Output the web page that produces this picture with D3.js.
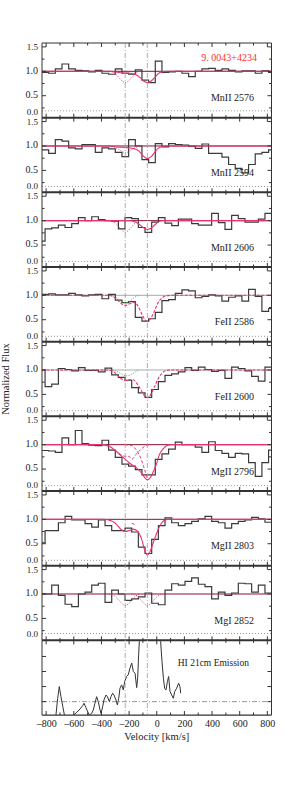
<!DOCTYPE html>
<html>
<head>
<meta charset="utf-8">
<script src="https://cdn.jsdelivr.net/npm/d3@7"></script>
<style>
  body { margin: 0; background: #fff; }
  svg text { font-family: "Liberation Serif", "DejaVu Serif", serif; fill: #222; }
</style>
</head>
<body>
<div id="chart"></div>
<script>
// ── Data ────────────────────────────────────────────────────────────────
const velocityTicks = [-800, -600, -400, -200, 0, 200, 400, 600, 800];
const componentVel  = [-228, -68];
const lineNames = ["MnII 2576", "MnII 2594", "MnII 2606", "FeII 2586", "FeII 2600",
                   "MgII 2796", "MgII 2803", "MgI 2852"];
const binWidth  = 48.2;
const binStarts = [-830, -830, -856, -830, -856, -830, -856, -856];
const errLevel  = [0.19, 0.17, 0.165, 0.16, 0.165, 0.16, 0.16, 0.19];

const fluxMnII2576 = [0.98,0.96,1.05,1.15,1.05,1.02,1.01,0.99,1.02,0.96,0.94,1.05,0.96,0.94,1.03,0.82,0.77,1.21,
                      0.98,0.99,1.00,0.96,0.89,1.00,1.05,1.06,1.02,1.05,1.02,0.99,1.01,1.01,0.96,1.01,0.98];
const fluxMnII2594 = [0.92,0.85,1.13,1.10,0.96,0.94,1.03,1.03,0.87,0.96,0.94,0.87,0.78,1.13,1.00,0.72,0.66,1.05,
                      0.98,1.05,1.03,1.02,0.99,0.95,1.04,0.85,0.85,0.77,0.62,0.54,0.45,0.62,0.84,0.87,0.92];
const fluxMnII2606 = [0.58,0.83,0.85,0.91,0.86,0.94,1.06,1.00,1.08,1.02,1.00,0.99,0.83,1.06,1.04,0.86,0.76,0.97,
                      1.06,0.95,0.90,1.03,1.03,0.94,0.91,0.91,1.15,0.96,0.82,1.11,1.04,0.97,0.97,1.03,1.15];
const fluxFeII2586 = [1.02,1.03,1.01,1.01,1.04,1.01,0.99,1.01,1.02,0.93,1.02,0.90,0.85,0.87,0.55,0.47,0.52,0.65,
                      0.89,0.91,1.04,1.11,1.09,0.95,0.98,1.01,0.99,0.88,0.96,0.99,0.88,1.12,0.98,0.67,0.73];
const fluxFeII2600 = [1.00,0.66,0.71,1.03,1.01,0.98,1.05,0.99,0.99,0.96,1.04,0.90,0.85,0.79,0.64,0.53,0.44,0.60,
                      0.76,0.89,0.92,0.96,1.05,0.99,1.06,1.01,0.97,0.99,0.83,1.06,1.03,0.98,0.87,0.77,1.06];
const fluxMgII2796 = [0.88,0.87,0.84,1.14,1.00,1.29,1.02,0.99,0.98,1.09,0.89,0.74,0.60,0.56,0.49,0.38,0.38,0.70,
                      0.81,0.91,1.05,1.00,1.00,0.95,0.84,1.06,0.88,0.82,0.74,0.82,0.81,0.63,0.35,0.63,0.89];
const fluxMgII2803 = [0.52,0.77,0.77,0.93,1.06,0.99,0.99,0.91,0.84,0.99,0.87,0.77,0.77,0.82,0.74,0.43,0.30,0.59,
                      0.87,1.03,0.93,0.87,0.91,0.96,1.01,1.06,0.96,0.93,0.82,0.91,0.96,0.99,1.04,1.01,0.94];
const fluxMgI2852  = [1.00,1.00,1.18,0.97,0.79,0.74,1.00,1.04,1.18,1.22,0.83,1.08,1.00,0.87,0.90,0.94,1.02,0.81,
                      0.78,1.08,1.21,1.18,1.26,1.33,1.20,1.15,0.90,1.04,0.97,1.02,1.22,1.21,1.04,1.18,1.02];

// model profiles [velocity, flux]
const totalMnII2576 = [[-830,1],[-340,1],[-300,0.985],[-260,0.97],[-228,0.965],[-190,0.96],[-150,0.93],[-120,0.87],
                       [-95,0.80],[-68,0.77],[-40,0.80],[-15,0.87],[10,0.95],[40,0.99],[70,1],[830,1]];
const compMnII2576  = [[-345,1],[-300,0.95],[-270,0.86],[-250,0.80],[-228,0.77],[-205,0.80],[-185,0.86],[-160,0.94],[-125,1]];
const totalMnII2594 = [[-830,1],[-340,1],[-290,0.98],[-228,0.97],[-170,0.95],[-130,0.90],[-100,0.80],[-68,0.74],
                       [-40,0.78],[-15,0.87],[10,0.95],[40,0.99],[70,1],[830,1]];
const compMnII2594  = [[-345,1],[-300,0.97],[-270,0.92],[-245,0.88],[-228,0.86],[-205,0.88],[-180,0.93],[-155,0.97],[-120,1]];
const totalMnII2606 = [[-830,1],[-200,1],[-160,0.98],[-130,0.93],[-100,0.86],[-68,0.82],[-40,0.85],[-15,0.91],
                       [10,0.97],[40,1],[830,1]];
const compMnII2606  = [[-345,1],[-300,0.95],[-270,0.86],[-250,0.80],[-228,0.76],[-205,0.80],[-185,0.86],[-160,0.94],[-125,1]];
const totalFeII2586 = [[-830,1],[-360,1],[-320,0.98],[-290,0.92],[-260,0.84],[-228,0.79],[-200,0.82],[-170,0.86],
                       [-140,0.80],[-110,0.63],[-85,0.50],[-68,0.47],[-45,0.52],[-20,0.66],[10,0.85],[40,0.95],
                       [70,0.99],[100,1],[830,1]];
const compFeII2586  = [[-330,1],[-290,0.95],[-260,0.88],[-228,0.85],[-195,0.88],[-165,0.95],[-130,1]];
const totalFeII2600 = [[-830,1],[-360,1],[-320,0.98],[-290,0.91],[-260,0.83],[-228,0.78],[-200,0.80],[-170,0.80],
                       [-140,0.71],[-110,0.57],[-85,0.46],[-68,0.43],[-45,0.49],[-20,0.63],[10,0.82],[40,0.94],
                       [70,0.99],[100,1],[830,1]];
const compFeII2600  = [[-320,1],[-280,0.96],[-250,0.91],[-220,0.88],[-190,0.90],[-160,0.95],[-130,1]];
const totalMgII2796 = [[-830,1],[-400,1],[-340,0.96],[-300,0.88],[-260,0.78],[-228,0.70],[-200,0.63],[-170,0.57],
                       [-140,0.51],[-110,0.42],[-85,0.32],[-68,0.28],[-45,0.33],[-20,0.48],[0,0.62],[20,0.80],
                       [48,0.92],[80,0.99],[110,1],[830,1]];
const compMgII2796a = [[-400,1],[-340,0.96],[-290,0.86],[-250,0.78],[-228,0.76],[-200,0.76],[-181,0.70],
                       [-150,0.80],[-120,0.89],[-90,0.96],[-70,0.99],[-40,1]];
const compMgII2796b = [[-230,1],[-200,0.99],[-181,0.98],[-150,0.90],[-120,0.75],[-95,0.55],[-68,0.30]];
const totalMgII2803 = [[-830,1],[-380,1],[-330,0.97],[-300,0.92],[-260,0.80],[-228,0.75],[-200,0.77],[-170,0.80],
                       [-140,0.76],[-110,0.60],[-85,0.35],[-68,0.27],[-50,0.33],[-25,0.52],[0,0.72],[25,0.88],
                       [50,0.97],[80,1],[830,1]];
const compMgII2803  = [[-181,0.92],[-165,0.90],[-150,0.88]];
const compMgI2852a  = [[-345,1],[-300,0.95],[-270,0.86],[-250,0.80],[-228,0.76],[-205,0.80],[-185,0.86],[-160,0.94],[-125,1]];
const compMgI2852b  = [[-185,1],[-140,0.95],[-110,0.86],[-90,0.80],[-68,0.76],[-45,0.80],[-25,0.86],[0,0.94],[35,1]];

// HI 21cm emission [velocity, brightness]
const hiSpectrum = [[-745,-1.3],[-729,-0.89],[-717,0.2],[-705,1.0],[-693,0.33],[-680,-0.3],[-668,-0.89],[-640,-1.3],
  [-610,-1.3],[-599,-0.89],[-579,-0.71],[-555,-0.49],[-536,-0.27],[-526,-0.11],[-512,-0.4],[-502,-0.62],
  [-488,-0.89],[-471,-0.78],[-459,-0.56],[-447,-0.11],[-435,0.33],[-423,0],[-410,-0.56],[-403,-0.78],
  [-391,-0.33],[-382,0.11],[-367,0.44],[-357,0.33],[-343,0],[-331,0.33],[-319,0.56],[-309,0.44],[-295,0.11],
  [-285,-0.22],[-275,0.22],[-266,0.89],[-254,1.11],[-242,0.78],[-232,1.33],[-218,1.67],[-206,1.78],
  [-194,2.22],[-181,2.56],[-169,2.0],[-157,1.89],[-145,0.93],[-138,1.56],[-131,3.11],[-126,4.0],[-110,7],
  [-60,9],[0,8],[20,6],[28,4.0],[38,2.67],[48,1.56],[57,0.89],[67,0.78],[77,1.33],[86,1.67],[96,0.67],
  [108,0.44],[120,0.22],[130,0.67],[144,0.89],[158,1.22],[168,1.0],[173,0.56]];
const hiTicks = [0, 1, 2, 3];

const panels = [
  { name: lineNames[0], flux: fluxMnII2576, total: totalMnII2576, comps: [compMnII2576] },
  { name: lineNames[1], flux: fluxMnII2594, total: totalMnII2594, comps: [compMnII2594] },
  { name: lineNames[2], flux: fluxMnII2606, total: totalMnII2606, comps: [compMnII2606] },
  { name: lineNames[3], flux: fluxFeII2586, total: totalFeII2586, comps: [compFeII2586], green: true },
  { name: lineNames[4], flux: fluxFeII2600, total: totalFeII2600, comps: [compFeII2600], green: true },
  { name: lineNames[5], flux: fluxMgII2796, total: totalMgII2796, comps: [compMgII2796a, compMgII2796b] },
  { name: lineNames[6], flux: fluxMgII2803, total: totalMgII2803, comps: [compMgII2803] },
  { name: lineNames[7], flux: fluxMgI2852,  total: null,          comps: [compMgI2852a, compMgI2852b] }
];

// ── Layout ──────────────────────────────────────────────────────────────
const W = 305, H = 812;
const LEFT = 42, RIGHT = 271.5, TOP = 43, PANEL_H = 74.67;
const FLUX_DOMAIN = [0.05, 1.58];

const svg = d3.select("#chart").append("svg")
  .attr("width", W).attr("height", H);

const x = d3.scaleLinear().domain([-830, 830]).range([LEFT, RIGHT]);
const majorX = velocityTicks;
const minorX = d3.range(-800, 801, 100).filter(v => v % 200 !== 0);

const defs = svg.append("defs");

function xTicks(g, yPos, dir) {
  majorX.forEach(v => g.append("line").attr("x1", x(v)).attr("x2", x(v))
    .attr("y1", yPos).attr("y2", yPos + dir * 4).attr("stroke", "#333").attr("stroke-width", 1));
  minorX.forEach(v => g.append("line").attr("x1", x(v)).attr("x2", x(v))
    .attr("y1", yPos).attr("y2", yPos + dir * 2.5).attr("stroke", "#333").attr("stroke-width", 1));
}

function yTicks(g, y, major, minor) {
  [[LEFT, 1], [RIGHT, -1]].forEach(([xp, dir]) => {
    major.forEach(v => g.append("line").attr("x1", xp).attr("x2", xp + dir * 4)
      .attr("y1", y(v)).attr("y2", y(v)).attr("stroke", "#333"));
    minor.forEach(v => g.append("line").attr("x1", xp).attr("x2", xp + dir * 2.5)
      .attr("y1", y(v)).attr("y2", y(v)).attr("stroke", "#333"));
  });
}

const stepLine = (xs, ys) => d3.line().x(d => xs(d[0])).y(d => ys(d[1])).curve(d3.curveStepAfter);
const smoothLine = (xs, ys) => d3.line().x(d => xs(d[0])).y(d => ys(d[1])).curve(d3.curveMonotoneX);

panels.forEach((p, i) => {
  const top = TOP + i * PANEL_H;
  const bottom = top + PANEL_H;
  const y = d3.scaleLinear().domain(FLUX_DOMAIN).range([bottom, top]);
  const g = svg.append("g");

  defs.append("clipPath").attr("id", "clip" + i)
    .append("rect").attr("x", LEFT).attr("y", top).attr("width", RIGHT - LEFT).attr("height", PANEL_H);
  const inner = g.append("g").attr("clip-path", `url(#clip${i})`);

  // label (drawn under the data)
  g.append("text").attr("x", 254).attr("y", top + 56).attr("text-anchor", "end")
    .attr("dominant-baseline", "middle").attr("font-size", 10).text(p.name);

  // error spectrum
  inner.append("line").attr("x1", LEFT).attr("x2", RIGHT)
    .attr("y1", y(errLevel[i])).attr("y2", y(errLevel[i]))
    .attr("stroke", "#999").attr("stroke-dasharray", "1,2");

  // continuum
  inner.append("line").attr("x1", LEFT).attr("x2", RIGHT).attr("y1", y(1)).attr("y2", y(1))
    .attr("stroke", p.green ? "#aaa" : "#8b1030").attr("stroke-width", 1);

  // data histogram
  const pts = p.flux.map((f, j) => [binStarts[i] + j * binWidth, f]);
  pts.push([binStarts[i] + p.flux.length * binWidth, p.flux[p.flux.length - 1]]);
  inner.append("path").attr("d", stepLine(x, y)(pts))
    .attr("fill", "none").attr("stroke", "#3a3a3a").attr("stroke-width", 1.2);

  // components
  p.comps.forEach(c => {
    inner.append("path").attr("d", smoothLine(x, y)(c)).attr("fill", "none")
      .attr("stroke", p.green ? "#4caf50" : "#e8336d").attr("stroke-width", 1)
      .attr("stroke-dasharray", i >= 5 && i <= 6 ? "3,2" : "1,1.5");
  });

  // total model
  if (p.total) {
    inner.append("path").attr("d", smoothLine(x, y)(p.total)).attr("fill", "none")
      .attr("stroke", "#e8336d").attr("stroke-width", 1.1)
      .attr("stroke-dasharray", p.green ? "3,1.5" : null);
  }

  // frame
  g.append("line").attr("x1", LEFT).attr("x2", LEFT).attr("y1", top).attr("y2", bottom).attr("stroke", "#333");
  g.append("line").attr("x1", RIGHT).attr("x2", RIGHT).attr("y1", top).attr("y2", bottom).attr("stroke", "#333");
  xTicks(g, top, 1);
  xTicks(g, bottom, -1);
  yTicks(g, y, [0.5, 1.0, 1.5], [0.25, 0.75, 1.25]);

  // y tick labels
  [[1.5, top + 5, 9], [1.0, y(1.0), 10], [0.5, y(0.5), 10], [0.0, bottom - 5, 9]].forEach(([v, yp, fs]) => {
    g.append("text").attr("x", 38).attr("y", yp).attr("text-anchor", "end")
      .attr("dominant-baseline", "middle").attr("font-size", fs).text(v.toFixed(1));
  });
});

// ── HI 21cm panel ──────────────────────────────────────────────────────
{
  const i = panels.length;
  const top = TOP + i * PANEL_H;
  const bottom = top + PANEL_H;
  const y = d3.scaleLinear().domain([-0.89, 4.07]).range([bottom, top]);
  const g = svg.append("g");
  defs.append("clipPath").attr("id", "clipHI")
    .append("rect").attr("x", LEFT).attr("y", top).attr("width", RIGHT - LEFT).attr("height", PANEL_H);
  const inner = g.append("g").attr("clip-path", "url(#clipHI)");

  g.append("text").attr("x", 249).attr("y", top + 23.5).attr("text-anchor", "end")
    .attr("dominant-baseline", "middle").attr("font-size", 9.5).text("HI 21cm Emission");

  inner.append("line").attr("x1", LEFT).attr("x2", RIGHT).attr("y1", y(0)).attr("y2", y(0))
    .attr("stroke", "#999").attr("stroke-dasharray", "5,2,1,2");
  inner.append("path").attr("d", d3.line().x(d => x(d[0])).y(d => y(d[1]))(hiSpectrum))
    .attr("fill", "none").attr("stroke", "#333").attr("stroke-width", 1);

  g.append("line").attr("x1", LEFT).attr("x2", LEFT).attr("y1", top).attr("y2", bottom).attr("stroke", "#333");
  g.append("line").attr("x1", RIGHT).attr("x2", RIGHT).attr("y1", top).attr("y2", bottom).attr("stroke", "#333");
  xTicks(g, top, 1);
  xTicks(g, bottom, -1);
  yTicks(g, y, hiTicks, []);
  g.append("line").attr("x1", LEFT).attr("x2", RIGHT).attr("y1", bottom).attr("y2", bottom)
    .attr("stroke", "#333").attr("stroke-width", 1.2);

  // bottom axis labels
  const axis = svg.append("g").attr("transform", `translate(0,${bottom})`)
    .call(d3.axisBottom(x).tickValues(velocityTicks).tickSize(0).tickPadding(5)
      .tickFormat(d => d < 0 ? "\u2013" + Math.abs(d) : d));
  axis.select(".domain").remove();
  axis.selectAll("text").attr("font-size", 10).attr("font-family", "Liberation Serif, serif").attr("fill", "#222");
}

// panel boundaries (thick)
d3.range(panels.length + 1).forEach(k => {
  const yy = TOP + k * PANEL_H;
  svg.append("line").attr("x1", LEFT).attr("x2", RIGHT).attr("y1", yy).attr("y2", yy)
    .attr("stroke", "#333").attr("stroke-width", k === 0 ? 1.2 : 2);
});

// component velocity markers
componentVel.forEach(v => {
  svg.append("line").attr("x1", x(v)).attr("x2", x(v))
    .attr("y1", TOP).attr("y2", TOP + (panels.length + 1) * PANEL_H)
    .attr("stroke", "#999").attr("stroke-width", 0.8).attr("stroke-dasharray", "5,2,1,2");
});

// titles
svg.append("text").attr("x", 257).attr("y", 58.5).attr("text-anchor", "end")
  .attr("dominant-baseline", "middle").attr("font-size", 10).style("fill", "#ff3030")
  .text("9. 0043+4234");
svg.append("text").attr("x", (LEFT + RIGHT) / 2).attr("y", 738).attr("text-anchor", "middle")
  .attr("dominant-baseline", "middle").attr("font-size", 10.5).text("Velocity [km/s]");
svg.append("text").attr("transform", `translate(7,${TOP + 4.5 * PANEL_H}) rotate(-90)`)
  .attr("text-anchor", "middle").attr("dominant-baseline", "middle").attr("font-size", 10.5)
  .text("Normalized Flux");
</script>
</body>
</html>
